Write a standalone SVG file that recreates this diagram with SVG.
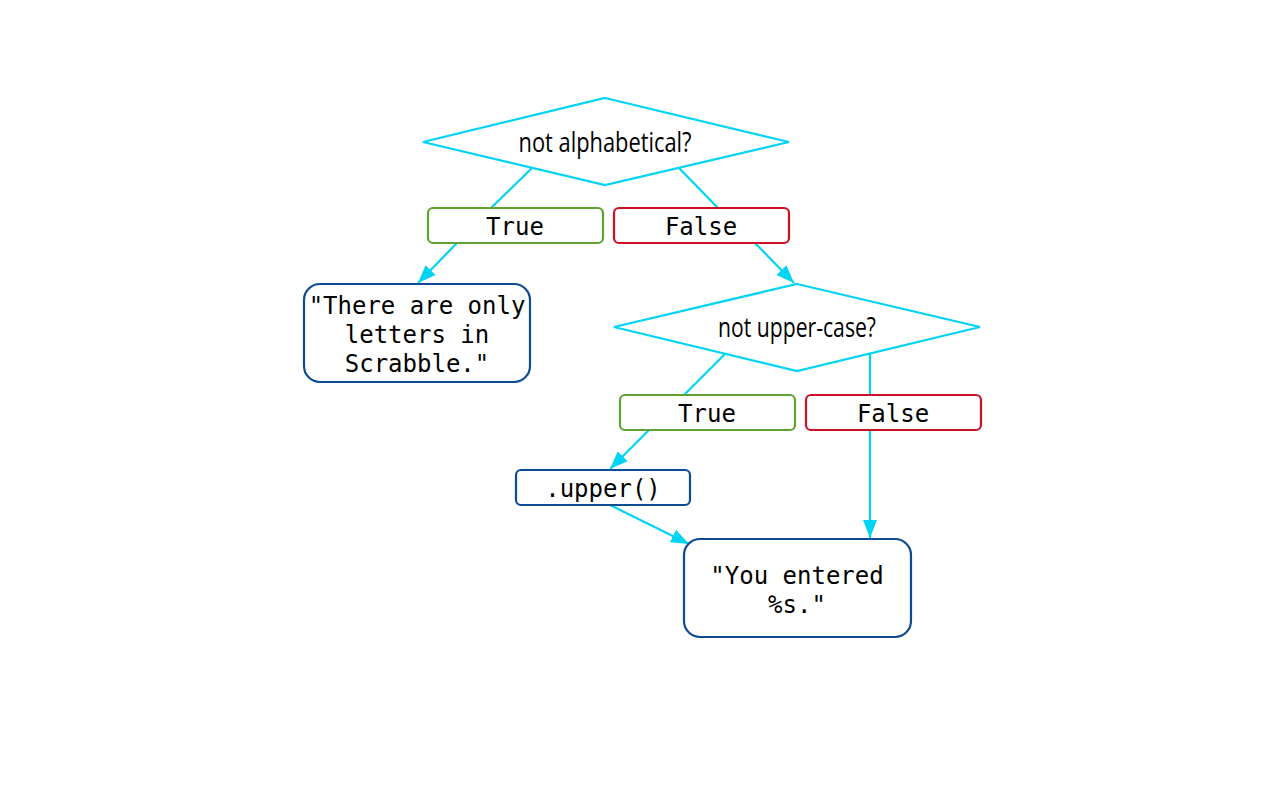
<svg xmlns="http://www.w3.org/2000/svg" width="1280" height="800" viewBox="0 0 1280 800">
<style>
.dia{fill:#fff;stroke:#00d4f5;stroke-width:2.2}
.dt{font-family:"Open Sans","DejaVu Sans",sans-serif;font-size:28px;fill:#000;text-anchor:middle}
.mono{font-family:"DejaVu Sans Mono","Liberation Mono",monospace;font-size:24px;fill:#000;text-anchor:middle}
.tbox{fill:#fff;stroke:#5fa232;stroke-width:2.2}
.fbox{fill:#fff;stroke:#cc1126;stroke-width:2.2}
.sbox{fill:#fff;stroke:#0d4a94;stroke-width:2.2}
.conn{stroke:#00d4f5;stroke-width:2.2;fill:none}
</style>
<defs>
<marker id="a" viewBox="0 0 18 14" refX="18" refY="7" markerWidth="18" markerHeight="14" markerUnits="userSpaceOnUse" orient="auto">
<path d="M0,0 L18,7 L0,14 z" fill="#00d4f5"/>
</marker>
</defs>
<rect width="1280" height="800" fill="#fff"/>
<g id="connectors">
<line class="conn" x1="532" y1="168" x2="491" y2="208"/>
<line class="conn" x1="679" y1="168" x2="718" y2="208"/>
<line class="conn" x1="457" y1="243" x2="418" y2="283" marker-end="url(#a)"/>
<line class="conn" x1="755" y1="243" x2="794" y2="283" marker-end="url(#a)"/>
<line class="conn" x1="725" y1="354" x2="684" y2="395"/>
<line class="conn" x1="870" y1="354" x2="870" y2="395"/>
<line class="conn" x1="649" y1="430" x2="610" y2="469" marker-end="url(#a)"/>
<line class="conn" x1="870" y1="430" x2="870" y2="538" marker-end="url(#a)"/>
<line class="conn" x1="610" y1="505" x2="689" y2="544" marker-end="url(#a)"/>
</g>
<g id="d1">
<polygon class="dia" points="605,98 789,142 605,185 423,142"/>
<text class="dt" x="605" y="152" textLength="173" lengthAdjust="spacingAndGlyphs">not alphabetical?</text>
</g>
<g id="t1">
<rect class="tbox" x="428" y="208" width="175" height="35" rx="5"/>
<text class="mono" x="515" y="235">True</text>
</g>
<g id="f1">
<rect class="fbox" x="614" y="208" width="175" height="35" rx="5"/>
<text class="mono" x="701" y="235">False</text>
</g>
<g id="s1">
<rect class="sbox" x="304" y="284" width="226" height="98" rx="16"/>
<text class="mono" x="417" y="314">"There are only</text>
<text class="mono" x="417" y="343">letters in</text>
<text class="mono" x="417" y="372">Scrabble."</text>
</g>
<g id="d2">
<polygon class="dia" points="797,284 980,327 797,371 614,327"/>
<text class="dt" x="797" y="337" textLength="158" lengthAdjust="spacingAndGlyphs">not upper-case?</text>
</g>
<g id="t2">
<rect class="tbox" x="620" y="395" width="175" height="35" rx="5"/>
<text class="mono" x="707" y="422">True</text>
</g>
<g id="f2">
<rect class="fbox" x="806" y="395" width="175" height="35" rx="5"/>
<text class="mono" x="893" y="422">False</text>
</g>
<g id="up">
<rect class="sbox" x="516" y="470" width="174" height="35" rx="5"/>
<text class="mono" x="603" y="497">.upper()</text>
</g>
<g id="s2">
<rect class="sbox" x="684" y="539" width="227" height="98" rx="16"/>
<text class="mono" x="797" y="584">"You entered</text>
<text class="mono" x="797" y="613">%s."</text>
</g>
</svg>
